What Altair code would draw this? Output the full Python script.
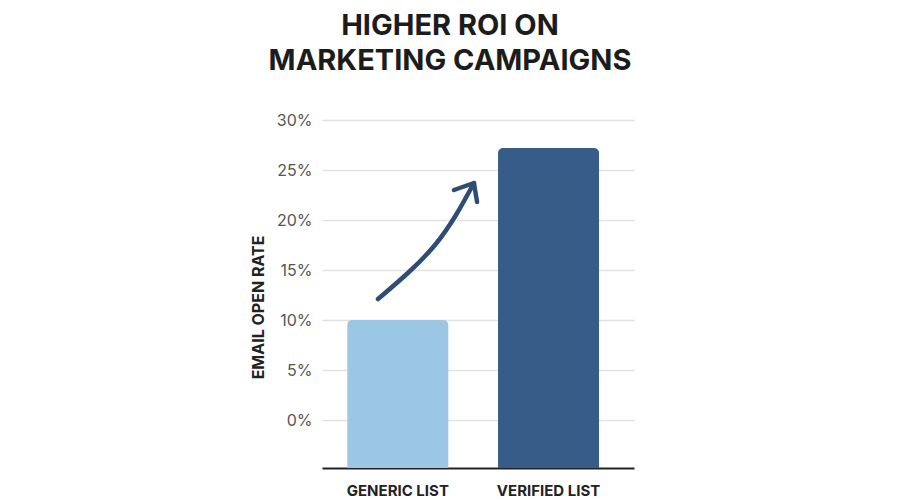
import altair as alt
import pandas as pd

categories = ["GENERIC LIST", "VERIFIED LIST"]
open_rate = [10.0, 27.2]
bar_colors = ["#9bc6e4", "#365c87"]
y_ticks = [0, 5, 10, 15, 20, 25, 30]
y_floor = -4.8
y_top = 30

# arrow annotation, in data units (x: 0..2 across the two category bands, y: %)
arrow_x = [0.359, 0.724, 0.974]
arrow_y = [12.1, 17.5, 23.7]
head_x = [0.846, 0.974, 0.994]
head_y = [23.0, 23.7, 21.8]

bars_df = pd.DataFrame({"cat": categories, "rate": open_rate,
                        "base": [y_floor] * len(categories), "color": bar_colors})
curve_df = pd.DataFrame({"xu": arrow_x, "yv": arrow_y, "ord": list(range(len(arrow_x)))})
head_df = pd.DataFrame({"xu": head_x, "yv": head_y, "ord": list(range(len(head_x)))})

yscale = alt.Scale(domain=[y_floor, y_top], nice=False, zero=False)
xq = alt.Scale(domain=[0, 2], nice=False, zero=False)
yaxis = alt.Axis(values=y_ticks, labelExpr="datum.value + '%'", labelFont="Inter",
                 labelFontSize=16, labelColor="#555555", labelPadding=10,
                 ticks=False, domain=False, gridColor="#e2e2e2", gridWidth=1.5,
                 titleFont="Inter", titleFontSize=16, titleFontWeight="bold",
                 titleColor="#222222", titlePadding=10, titleY=187)
ytitle = "EMAIL OPEN RATE"

bars = alt.Chart(bars_df).mark_bar(cornerRadiusTopLeft=5, cornerRadiusTopRight=5).encode(
    x=alt.X("cat:N", sort=categories, title=None,
            scale=alt.Scale(paddingInner=0.33, paddingOuter=0.2, align=0.42),
            axis=alt.Axis(labelAngle=0, labelFont="Inter", labelFontSize=15,
                          labelFontWeight="bold", labelColor="#222222", labelPadding=15,
                          ticks=False, domainColor="#222222", domainWidth=2, grid=False)),
    y=alt.Y("rate:Q", scale=yscale, title=ytitle, axis=yaxis),
    y2="base:Q",
    color=alt.Color("color:N", scale=None),
)

curve = alt.Chart(curve_df).mark_line(color="#2f4d72", strokeWidth=4.5, strokeCap="round",
                                      interpolate="natural").encode(
    x=alt.X("xu:Q", scale=xq, axis=None),
    y=alt.Y("yv:Q", scale=yscale, title=ytitle, axis=yaxis),
    order="ord:Q",
)
head = alt.Chart(head_df).mark_line(color="#2f4d72", strokeWidth=4.5, strokeCap="round",
                                    strokeJoin="round").encode(
    x=alt.X("xu:Q", scale=xq, axis=None),
    y=alt.Y("yv:Q", scale=yscale, title=ytitle, axis=yaxis),
    order="ord:Q",
)

chart = alt.layer(bars, curve, head).resolve_scale(x="independent").properties(
    width=312, height=348,
    autosize=alt.AutoSizeParams(type="none"),
    padding={"left": 314, "top": 112, "right": 258, "bottom": 32},
    title=alt.Title(["HIGHER ROI ON", "MARKETING CAMPAIGNS"], font="Inter", fontSize=29,
                    fontWeight="bold", color="#1c1c1c", anchor="middle", dx=-28,
                    lineHeight=35, offset=36),
).configure_view(stroke=None)

chart.save("out.html", embed_options={"renderer": "svg", "actions": False})
